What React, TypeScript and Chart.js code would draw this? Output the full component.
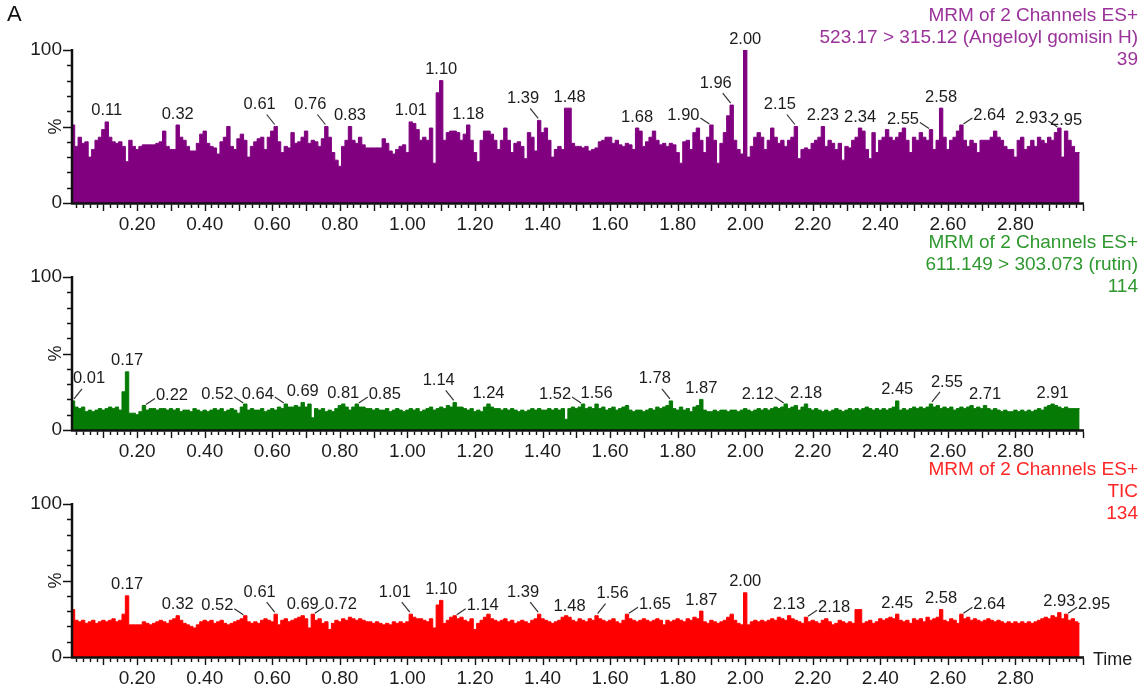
import React, { useEffect, useRef } from 'react';
import { Chart, registerables } from 'chart.js';

Chart.register(...registerables);

// ---------- data ----------
// sampling grid of the chromatograms (minutes)
const TIME_START = 0.01;
const TIME_STEP = 0.01;

// Angeloyl gomisin H channel, % of max (0.01 .. 2.99 min)
const angeloylValues = [
  51, 37, 43, 39, 40, 30, 35, 41, 43, 48,
  53, 43, 40, 39, 40, 37, 27, 41, 37, 35,
  37, 38, 38, 38, 38, 39, 40, 47, 37, 35,
  35, 51, 43, 41, 37, 34, 34, 39, 45, 47,
  39, 37, 36, 32, 40, 43, 50, 37, 35, 42,
  45, 41, 30, 37, 40, 42, 43, 35, 43, 47,
  50, 40, 33, 37, 36, 46, 39, 40, 43, 47,
  39, 41, 40, 37, 42, 50, 43, 33, 28, 24,
  37, 41, 50, 41, 39, 43, 38, 36, 36, 36,
  36, 36, 42, 39, 34, 32, 35, 37, 38, 33,
  53, 52, 48, 41, 43, 41, 49, 26, 72, 80,
  41, 46, 47, 47, 46, 41, 45, 51, 41, 33,
  27, 41, 47, 47, 45, 41, 35, 41, 49, 41,
  33, 39, 40, 37, 29, 46, 43, 34, 54, 46,
  49, 41, 30, 35, 37, 35, 62, 62, 39, 37,
  37, 36, 37, 34, 35, 36, 40, 41, 43, 43,
  39, 41, 38, 37, 39, 38, 35, 49, 47, 37,
  40, 43, 47, 41, 38, 39, 37, 39, 38, 33,
  26, 40, 41, 35, 46, 49, 41, 33, 43, 51,
  41, 26, 39, 46, 57, 64, 41, 35, 32, 100,
  30, 37, 43, 46, 43, 35, 41, 49, 43, 39,
  41, 37, 41, 43, 50, 29, 35, 36, 35, 39,
  41, 43, 50, 37, 41, 39, 35, 39, 28, 37,
  36, 41, 43, 49, 47, 35, 29, 46, 33, 41,
  43, 48, 43, 41, 43, 46, 49, 41, 33, 43,
  41, 46, 43, 41, 48, 35, 41, 62, 43, 35,
  41, 43, 47, 51, 41, 37, 41, 39, 33, 41,
  41, 41, 43, 47, 43, 41, 37, 35, 35, 30,
  41, 43, 35, 37, 41, 37, 43, 41, 39, 43,
  41, 46, 49, 30, 47, 41, 37, 33, 33,
];

// rutin channel, % of max
const rutinValues = [
  19, 15, 14, 15, 12, 13, 12, 13, 14, 13,
  14, 15, 14, 15, 13, 25, 38, 11, 11, 10,
  12, 16, 13, 14, 14, 13, 14, 14, 13, 14,
  13, 14, 12, 13, 13, 12, 14, 13, 12, 13,
  12, 13, 14, 13, 14, 12, 13, 14, 13, 11,
  15, 17, 13, 14, 13, 13, 14, 12, 13, 14,
  13, 15, 14, 17, 15, 15, 16, 15, 18, 15,
  17, 8, 14, 13, 14, 12, 13, 12, 14, 16,
  17, 15, 13, 15, 17, 15, 15, 14, 14, 13,
  14, 13, 13, 14, 12, 13, 14, 13, 12, 13,
  14, 13, 14, 12, 13, 14, 15, 13, 14, 15,
  14, 16, 15, 18, 15, 15, 14, 13, 14, 12,
  13, 12, 15, 17, 15, 14, 14, 13, 14, 13,
  14, 13, 12, 13, 12, 13, 14, 13, 14, 13,
  13, 14, 13, 14, 13, 14, 7, 14, 15, 14,
  15, 17, 14, 15, 14, 17, 14, 15, 13, 14,
  15, 13, 14, 15, 16, 13, 12, 13, 13, 12,
  13, 14, 13, 15, 14, 15, 16, 19, 14, 13,
  15, 13, 14, 12, 15, 16, 20, 13, 12, 12,
  13, 12, 13, 13, 12, 13, 13, 12, 13, 14,
  13, 12, 13, 14, 13, 14, 13, 14, 15, 14,
  15, 17, 14, 15, 16, 13, 15, 17, 14, 13,
  14, 13, 12, 13, 12, 13, 14, 13, 12, 13,
  14, 13, 14, 13, 14, 15, 14, 13, 14, 13,
  14, 13, 14, 15, 19, 13, 14, 13, 14, 15,
  14, 15, 14, 15, 17, 15, 16, 14, 15, 14,
  15, 13, 14, 15, 14, 15, 16, 14, 15, 14,
  16, 14, 13, 14, 13, 12, 13, 12, 12, 13,
  12, 13, 12, 13, 12, 13, 14, 13, 15, 16,
  17, 16, 15, 14, 15, 14, 14, 14, 14,
];

// TIC, % of max
const ticValues = [
  31, 24, 23, 24, 22, 23, 24, 22, 23, 24,
  23, 24, 25, 23, 24, 28, 40, 21, 21, 21,
  21, 23, 22, 21, 22, 23, 24, 23, 22, 24,
  25, 27, 24, 22, 21, 20, 19, 21, 23, 24,
  23, 24, 22, 23, 24, 22, 21, 22, 23, 24,
  25, 27, 23, 22, 23, 22, 24, 25, 24, 23,
  28, 21, 24, 25, 23, 24, 25, 26, 27, 25,
  19, 28, 24, 25, 22, 23, 18, 22, 24, 23,
  25, 24, 26, 25, 24, 25, 24, 23, 23, 22,
  23, 22, 21, 22, 21, 23, 22, 23, 22, 23,
  28, 26, 25, 25, 24, 23, 25, 19, 34, 37,
  22, 24, 26, 27, 25, 26, 24, 23, 25, 18,
  22, 24, 26, 28, 25, 24, 23, 24, 25, 23,
  24, 22, 23, 24, 23, 22, 24, 25, 28, 25,
  24, 23, 22, 23, 24, 26, 27, 26, 24, 23,
  25, 24, 23, 25, 24, 27, 25, 24, 23, 24,
  25, 23, 22, 24, 28, 25, 24, 23, 24, 25,
  24, 23, 24, 25, 24, 21, 24, 23, 24, 25,
  24, 23, 25, 24, 26, 25, 30, 23, 22, 24,
  23, 22, 23, 24, 26, 28, 24, 22, 21, 42,
  21, 23, 24, 23, 24, 23, 24, 25, 24, 26,
  25, 24, 27, 25, 24, 23, 22, 26, 23, 24,
  23, 22, 24, 25, 23, 21, 22, 24, 23, 22,
  23, 22, 31, 31, 22, 23, 24, 22, 23, 25,
  24, 25, 26, 25, 28, 24, 23, 24, 22, 25,
  24, 25, 23, 26, 24, 25, 26, 31, 24, 23,
  25, 24, 22, 28, 25, 26, 24, 25, 24, 23,
  24, 25, 24, 23, 24, 23, 22, 23, 22, 23,
  22, 23, 22, 23, 22, 23, 24, 25, 26, 25,
  27, 26, 29, 25, 28, 24, 25, 23, 22,
];

// labelled peaks (retention times)
const angeloylPeakTimes = [0.11, 0.32, 0.61, 0.76, 0.83, 1.01, 1.1, 1.18, 1.39, 1.48, 1.68, 1.9, 1.96, 2.0, 2.15, 2.23, 2.34, 2.55, 2.58, 2.64, 2.93, 2.95];
const rutinPeakTimes = [0.01, 0.17, 0.22, 0.52, 0.64, 0.69, 0.81, 0.85, 1.14, 1.24, 1.52, 1.56, 1.78, 1.87, 2.12, 2.18, 2.45, 2.55, 2.71, 2.91];
const ticPeakTimes = [0.17, 0.32, 0.52, 0.61, 0.69, 0.72, 1.01, 1.1, 1.14, 1.39, 1.48, 1.56, 1.65, 1.87, 2.0, 2.13, 2.18, 2.45, 2.58, 2.64, 2.93, 2.95];

// label placement (style): a = above, ul = up-left, l = left, r = right, ur = up-right
const angeloylPeakPlace = ['a', 'a', 'ul', 'ul', 'a', 'a', 'a', 'a', 'ul', 'a', 'a', 'l', 'ul', 'a', 'ul', 'a', 'a', 'l', 'a', 'r', 'l', 'a'];
const rutinPeakPlace = ['ur', 'a', 'r', 'l', 'l', 'a', 'a', 'r', 'ul', 'a', 'l', 'a', 'ul', 'a', 'l', 'a', 'a', 'ur', 'a', 'a'];
const ticPeakPlace = ['a', 'a', 'l', 'ul', 'a', 'r', 'ul', 'a', 'r', 'ul', 'a', 'ur', 'r', 'a', 'a', 'a', 'r', 'a', 'a', 'r', 'a', 'r'];

const angeloylTitle = ['MRM of 2 Channels ES+', '523.17 > 315.12 (Angeloyl gomisin H)', '39'];
const rutinTitle = ['MRM of 2 Channels ES+', '611.149 > 303.073 (rutin)', '114'];
const ticTitle = ['MRM of 2 Channels ES+', 'TIC', '134'];

const X_TICK_LABELS = ['0.20', '0.40', '0.60', '0.80', '1.00', '1.20', '1.40', '1.60', '1.80', '2.00', '2.20', '2.40', '2.60', '2.80'];
const Y_TICK_LABELS = ['0', '100'];
const Y_MID_LABEL = '%';
const PANEL_LETTER = 'A';
const X_AXIS_TITLE = 'Time';

// ---------- styles ----------
const FONT = '"Liberation Sans", Arial, Helvetica, sans-serif';
const TEXT_COLOR = '#1c1c1c';
const CANVAS_W = 1148;
const CANVAS_H = 240;
const PANEL_TOPS = [0, 227, 454];

type PanelCfg = {
  values: number[];
  fill: string;
  titleColor: string;
  titles: string[];
  peaks: number[];
  place: string[];
  letter?: boolean;
  timeTitle?: boolean;
};

const PANELS: PanelCfg[] = [
  { values: angeloylValues, fill: '#800080', titleColor: '#9a329a', titles: angeloylTitle, peaks: angeloylPeakTimes, place: angeloylPeakPlace, letter: true },
  { values: rutinValues, fill: '#057a05', titleColor: '#2e982e', titles: rutinTitle, peaks: rutinPeakTimes, place: rutinPeakPlace },
  { values: ticValues, fill: '#ff0000', titleColor: '#ff2626', titles: ticTitle, peaks: ticPeakTimes, place: ticPeakPlace, timeTitle: true },
];

function makeDecor(p: PanelCfg) {
  return {
    id: 'decor',
    afterDraw(chart: any) {
      const { ctx, chartArea: ca, scales } = chart;
      const xs = scales.x;
      const ys = scales.y;
      const y0 = ys.getPixelForValue(0);
      const y100 = ys.getPixelForValue(100);
      const axisX = ca.left - 1;
      ctx.save();
      // axis lines
      ctx.strokeStyle = '#111';
      ctx.lineWidth = 2.5;
      ctx.beginPath();
      ctx.moveTo(axisX, y100 - 1);
      ctx.lineTo(axisX, y0 + 1);
      ctx.moveTo(axisX - 1, y0 + 0.5);
      ctx.lineTo(ca.right + 1, y0 + 0.5);
      ctx.stroke();
      // x ticks
      ctx.lineWidth = 1.4;
      ctx.beginPath();
      for (let k = 1; k <= 150; k++) {
        const t = k * 0.02;
        if (t > 3.0001) break;
        const px = Math.round(xs.getPixelForValue(t)) + 0.5;
        const len = k % 5 === 0 ? 6.5 : 3.5;
        ctx.moveTo(px, y0 + 1.5);
        ctx.lineTo(px, y0 + 1.5 + len);
      }
      // y ticks
      for (let v = 0; v <= 100; v += 10) {
        const py = Math.round(ys.getPixelForValue(v)) + 0.5;
        const len = v % 50 === 0 ? 8 : 4;
        ctx.moveTo(axisX - 1, py);
        ctx.lineTo(axisX - 1 - len, py);
      }
      ctx.stroke();
      // % label
      ctx.fillStyle = TEXT_COLOR;
      ctx.font = `18px ${FONT}`;
      ctx.textAlign = 'center';
      ctx.textBaseline = 'middle';
      ctx.save();
      ctx.translate(56, ys.getPixelForValue(50));
      ctx.rotate(-Math.PI / 2);
      ctx.fillText(Y_MID_LABEL, 0, 0);
      ctx.restore();
      // peak labels
      ctx.font = `16.5px ${FONT}`;
      ctx.strokeStyle = '#333';
      ctx.lineWidth = 1.2;
      p.peaks.forEach((t, i) => {
        const idx = Math.round((t - TIME_START) / TIME_STEP);
        const val = p.values[idx];
        const px = xs.getPixelForValue(t);
        const py = ys.getPixelForValue(val);
        const place = p.place[i];
        let lx = px;
        let ly = py - 11;
        let lead: number[] | null = null;
        if (place === 'ul') {
          lx = px - 16; ly = py - 22;
          lead = [px - 9, py - 12, px - 1, py - 2];
        } else if (place === 'ur') {
          lx = px + 16; ly = py - 22;
          lead = [px + 9, py - 12, px + 1, py - 2];
        } else if (place === 'l') {
          lx = px - 28; ly = py - 10;
          lead = [px - 11, py - 7, px - 2, py - 1];
        } else if (place === 'r') {
          lx = px + 28; ly = py - 10;
          lead = [px + 11, py - 7, px + 2, py - 1];
        }
        ctx.fillStyle = TEXT_COLOR;
        ctx.fillText(t.toFixed(2), lx, ly);
        if (lead) {
          ctx.beginPath();
          ctx.moveTo(lead[0], lead[1]);
          ctx.lineTo(lead[2], lead[3]);
          ctx.stroke();
        }
      });
      // titles
      ctx.font = `19px ${FONT}`;
      ctx.textAlign = 'right';
      ctx.fillStyle = p.titleColor;
      const ty = [15.5, 37.5, 59.5];
      p.titles.forEach((s, i) => ctx.fillText(s, 1138, ty[i]));
      if (p.letter) {
        ctx.fillStyle = '#111';
        ctx.textAlign = 'left';
        ctx.font = `22px ${FONT}`;
        ctx.fillText(PANEL_LETTER, 7, 15);
      }
      if (p.timeTitle) {
        ctx.fillStyle = TEXT_COLOR;
        ctx.textAlign = 'left';
        ctx.font = `18px ${FONT}`;
        ctx.fillText(X_AXIS_TITLE, 1093, y0 + 3);
      }
      ctx.restore();
    },
  };
}

function Panel({ cfg, top }: { cfg: PanelCfg; top: number }) {
  const ref = useRef<HTMLCanvasElement | null>(null);
  useEffect(() => {
    if (!ref.current) return;
    const points = cfg.values.map((v, i) => ({ x: +(TIME_START + i * TIME_STEP).toFixed(2), y: v }));
    const chart = new Chart(ref.current, {
      type: 'line',
      data: {
        datasets: [
          {
            data: points,
            fill: 'origin',
            backgroundColor: cfg.fill,
            borderColor: cfg.fill,
            borderWidth: 1,
            pointRadius: 0,
            stepped: 'middle',
            tension: 0,
          } as any,
        ],
      },
      options: {
        animation: false,
        responsive: false,
        devicePixelRatio: 1,
        layout: { padding: { left: 0, right: CANVAS_W - 1083, top: 50, bottom: 0 } },
        plugins: { legend: { display: false }, tooltip: { enabled: false }, title: { display: false } },
        scales: {
          x: {
            type: 'linear',
            min: 0.01,
            max: 3.0,
            grid: { display: false, drawTicks: false },
            border: { display: false },
            ticks: {
              stepSize: 0.2,
              includeBounds: false,
              autoSkip: false,
              maxRotation: 0,
              padding: 10,
              color: TEXT_COLOR,
              font: { family: FONT, size: 19 },
              callback: (v: any) => {
                const s = Number(v).toFixed(2);
                return X_TICK_LABELS.includes(s) ? s : '';
              },
            },
            afterFit: (s: any) => {
              s.height = CANVAS_H - 203;
            },
          },
          y: {
            min: 0,
            max: 100,
            grid: { display: false, drawTicks: false },
            border: { display: false },
            ticks: {
              stepSize: 50,
              padding: 11,
              color: TEXT_COLOR,
              font: { family: FONT, size: 19 },
              callback: (v: any) => {
                const s = String(v);
                return Y_TICK_LABELS.includes(s) ? s : '';
              },
            },
            afterFit: (s: any) => {
              s.width = 73;
            },
          },
        },
      } as any,
      plugins: [makeDecor(cfg)],
    });
    return () => chart.destroy();
  }, [cfg]);
  return (
    <canvas
      ref={ref}
      width={CANVAS_W}
      height={CANVAS_H}
      style={{ position: 'absolute', left: 0, top, width: CANVAS_W, height: CANVAS_H, display: 'block' }}
    />
  );
}

export default function App() {
  useEffect(() => {
    document.body.style.margin = '0';
    document.body.style.background = '#ffffff';
  }, []);
  return (
    <div style={{ position: 'relative', width: CANVAS_W, height: 689, overflow: 'hidden', background: '#fff' }}>
      {PANELS.map((p, i) => (
        <Panel key={i} cfg={p} top={PANEL_TOPS[i]} />
      ))}
    </div>
  );
}
